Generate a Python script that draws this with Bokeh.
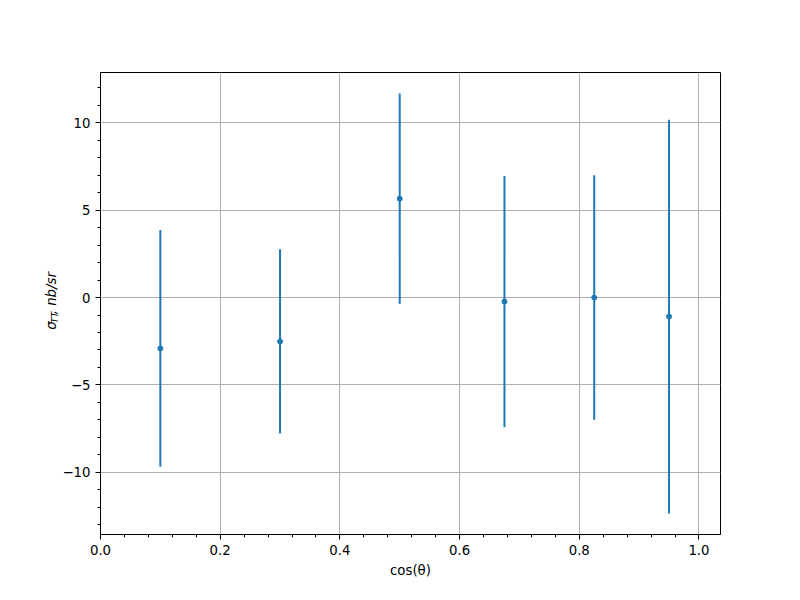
import numpy as np
from bokeh.plotting import figure
from bokeh.layouts import row
from bokeh.models import (Range1d, SingleIntervalTicker, CustomJSTickFormatter,
                          ColumnDataSource, Label)
from bokeh.embed import file_html
from bokeh.resources import INLINE

# data
cos_theta = [0.1, 0.3, 0.5, 0.675, 0.825, 0.95]
sigma_tt = [-2.91, -2.51, 5.66, -0.23, 0.0, -1.09]
sigma_err = [6.77, 5.27, 6.02, 7.19, 7.0, 11.27]

x_ticks_interval = 0.2
y_ticks_interval = 5

C = "#1f77b4"
FONT = "DejaVu Sans"
LAB_W = 59

y = np.array(sigma_tt)
e = np.array(sigma_err)
src = ColumnDataSource(dict(x=cos_theta, y=sigma_tt, lo=list(y - e), hi=list(y + e)))

ymin = float((y - e).min())
ymax = float((y + e).max())
pad = 0.05 * (ymax - ymin)

p = figure(width=800 - LAB_W, height=600, output_backend="svg", toolbar_location=None,
           x_range=Range1d(0.0, 1.036), y_range=Range1d(ymin - pad, ymax + pad),
           min_border_left=100 - LAB_W, min_border_right=80, min_border_top=72,
           min_border_bottom=66)
p.background_fill_color = "white"
p.border_fill_color = "white"
p.outline_line_color = "black"
p.outline_line_width = 1
p.outline_line_alpha = 1

p.xaxis.ticker = SingleIntervalTicker(interval=x_ticks_interval, num_minor_ticks=5)
p.yaxis.ticker = SingleIntervalTicker(interval=y_ticks_interval, num_minor_ticks=5)
p.xaxis.formatter = CustomJSTickFormatter(code="return tick.toFixed(1);")
p.yaxis.formatter = CustomJSTickFormatter(
    code="var t = Math.round(tick); return t < 0 ? '\u2212' + Math.abs(t) : String(t);")

for ax in (p.xaxis, p.yaxis):
    ax.axis_line_color = "black"
    ax.axis_line_width = 1
    ax.major_tick_line_color = "black"
    ax.minor_tick_line_color = "black"
    ax.major_tick_in = 0
    ax.major_tick_out = 5
    ax.minor_tick_in = 0
    ax.minor_tick_out = 3
    ax.major_label_text_font = FONT
    ax.major_label_text_font_size = "13.3px"
    ax.major_label_text_color = "black"
    ax.major_label_standoff = 5

p.xaxis.axis_label = "cos(θ)"
p.xaxis.axis_label_text_font = FONT
p.xaxis.axis_label_text_font_size = "13.3px"
p.xaxis.axis_label_text_font_style = "normal"
p.xaxis.axis_label_text_color = "black"
p.xaxis.axis_label_standoff = 5

p.grid.grid_line_color = "#b0b0b0"
p.grid.grid_line_width = 1

p.segment(x0="x", y0="lo", x1="x", y1="hi", source=src, line_color=C, line_width=2)
p.scatter(x="x", y="y", source=src, size=5, fill_color=C, line_color=C, line_width=1)

# narrow strip holding the rotated y-axis label: sigma_{TT}, nb/sr
lab = figure(width=LAB_W, height=600, output_backend="svg", toolbar_location=None,
             x_range=Range1d(0, LAB_W), y_range=Range1d(0, 600),
             min_border_left=0, min_border_right=0, min_border_top=0,
             min_border_bottom=0)
lab.axis.visible = False
lab.grid.visible = False
lab.outline_line_color = None
lab.background_fill_color = "white"
lab.border_fill_color = "white"

common = dict(angle=np.pi / 2, text_font=FONT, text_font_style="italic",
              text_color="black", text_align="left", text_baseline="alphabetic")
base_x = 51
start_y = 600 - 334
lab.add_layout(Label(x=base_x, y=start_y, text="σ", text_font_size="13.3px", **common))
lab.add_layout(Label(x=base_x + 3, y=start_y + 8.5, text="TT", text_font_size="9.3px", **common))
lab.add_layout(Label(x=base_x, y=start_y + 20, text=", nb/sr", text_font_size="13.3px", **common))

layout = row(lab, p, spacing=0)
open("out.html", "w").write(file_html(layout, INLINE))
